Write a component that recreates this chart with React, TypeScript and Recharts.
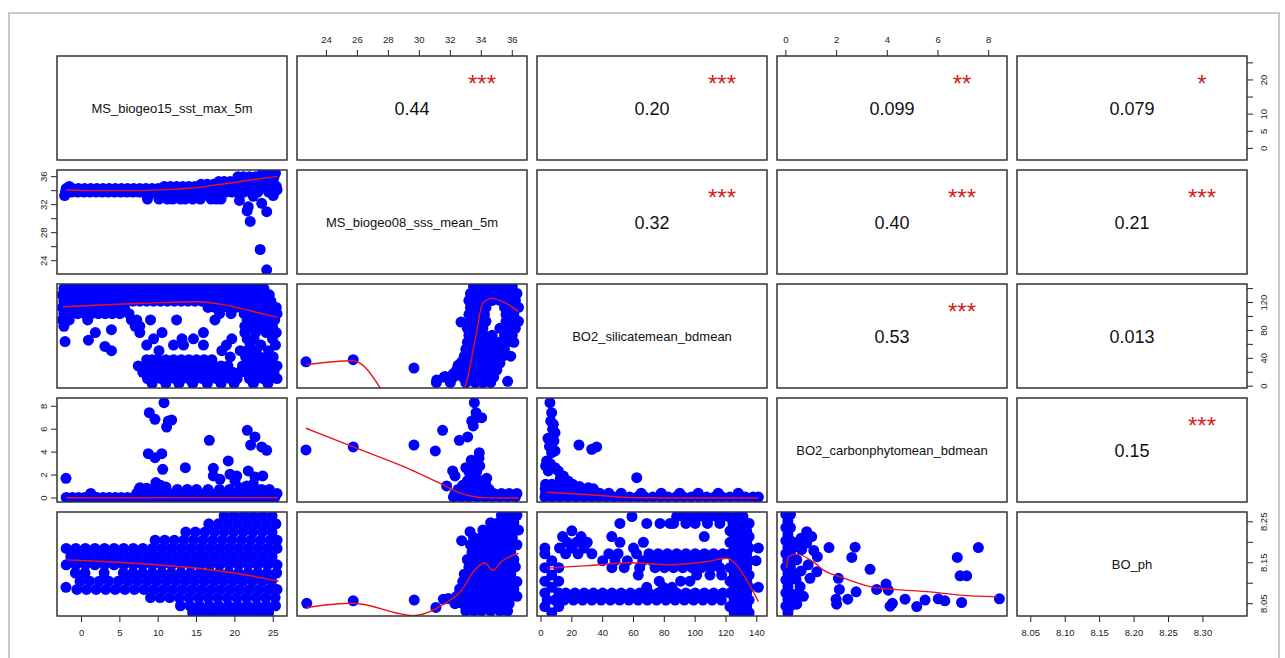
import React from "react";
import { ComposedChart, Scatter, XAxis, YAxis } from "recharts";

type Pt = [number, number];
type Row = [number, number[]];
type Side = "top" | "bottom" | "left" | "right";

const FONT = "'Liberation Sans', Arial, Helvetica, sans-serif";

// panel grid (page pixels)
const colLeft = [57, 297, 537, 777, 1017];
const rowTop = [56, 170, 284, 398, 512];
const PW = 230;
const PH = 104;
const PAD = 40;
const AXIS = 30;

// axis windows of the five variables (range padded by 4% like base R)
const sstDomain: [number, number] = [-3.2, 26.8];
const sstRowDomain: [number, number] = [-3.4, 27.0];
const sssDomain: [number, number] = [22.1, 36.95];
const silDomain: [number, number] = [-2.6, 146.6];
const carbonDomain: [number, number] = [-0.35, 8.72];
const phDomain: [number, number] = [8.02, 8.274];
const phXDomain: [number, number] = [8.03, 8.364];

const sstTicks = [0, 5, 10, 15, 20, 25];
const sstRightLabels = [0, 5, 10, 20];
const sssTicks = [24, 26, 28, 30, 32, 34, 36];
const sssLeftLabels = [24, 28, 32, 36];
const silTicks = [0, 20, 40, 60, 80, 100, 120, 140];
const silRightLabels = [0, 40, 80, 120];
const carbonTicks = [0, 2, 4, 6, 8];
const phTicks = [8.05, 8.1, 8.15, 8.2, 8.25];
const phRightLabels = [8.05, 8.15, 8.25];
const phBottomTicks = [8.05, 8.1, 8.15, 8.2, 8.25, 8.3];

const varNames = [
  "MS_biogeo15_sst_max_5m",
  "MS_biogeo08_sss_mean_5m",
  "BO2_silicatemean_bdmean",
  "BO2_carbonphytomean_bdmean",
  "BO_ph",
];

const corPairs: [number, number][] = [
  [0, 1], [0, 2], [0, 3], [0, 4], [1, 2], [1, 3], [1, 4], [2, 3], [2, 4], [3, 4],
];
const corText = ["0.44", "0.20", "0.099", "0.079", "0.32", "0.40", "0.21", "0.53", "0.013", "0.15"];
const corStars = ["***", "***", "**", "*", "***", "***", "***", "***", "", "***"];

// ---- sst (x) vs sss (y)
const sstSssRows: Row[] = [
  [36.5, [23.6, 24.6, 25.3]],
  [36.0, [20.4, 21.1, 21.9, 22.7, 23.5, 24.3, 25.1]],
  [35.3, [17.9, 18.6, 19.4, 20.2, 21.0, 21.8, 22.6, 23.4, 24.2, 25.0]],
  [34.9, [15.6, 16.4, 17.2]],
  [34.6, [-1.6, 10.8, 11.6, 12.4, 13.2, 14.0, 14.8, 21.4, 22.2, 23.0, 23.8, 24.6, 25.4]],
  [34.3, [-2.0, -1.2, -0.4, 0.4, 1.2, 2.0, 2.8, 3.6, 4.4, 5.2, 6.0, 6.8, 7.6, 8.4, 9.2, 10.0]],
  [34.2, [15.2, 16.0, 16.8, 17.6, 18.4, 19.2, 20.0, 20.8]],
  [33.8, [-2.1, -1.3, -0.5, 0.3, 1.1, 1.9, 2.7, 3.5, 4.3, 5.1, 5.9, 6.7, 7.5, 18.8, 19.6, 20.4, 21.2, 22.2, 23.0, 24.4]],
  [33.6, [8.3, 9.1, 9.9, 10.7, 11.5, 12.3, 13.1, 13.9, 14.7, 15.5, 16.3, 17.1, 17.9]],
  [33.3, [-2.2]],
  [32.8, [8.6, 10.1, 11.2, 11.9, 12.9, 13.5, 14.5, 15.5, 16.9, 17.6, 18.2]],
];
const sstSssPts: Pt[] = [
  [20.6, 32.6], [21.75, 31.7], [21.6, 31.1], [22.0, 29.6], [22.4, 33.2], [23.5, 32.2],
  [24.15, 31.0], [23.3, 25.6], [24.15, 22.7], [25.0, 33.3], [25.5, 34.1],
];
const sstSssSmooth: Pt[] = [
  [-2.0, 34.1], [2.0, 34.0], [7.6, 34.0], [11.0, 34.15], [14.1, 34.35], [17.5, 34.8], [20.7, 35.3], [23.2, 35.7], [25.6, 36.0],
];

// ---- sst (x) vs silicate (y)
const sstSilRows: Row[] = [
  [140, [-2.3, -1.4, -0.5, 0.4, 1.3, 2.2, 3.1, 4.0, 4.9, 5.8, 6.7, 7.6, 8.5, 9.4, 10.3, 11.2, 12.1, 13.0, 13.9, 14.8, 15.7, 16.6, 17.5, 18.4, 19.3, 20.2, 21.1, 22.0, 22.9, 23.8]],
  [131, [-2.5, -1.6, -0.7, 0.2, 1.1, 2.0, 2.9, 3.8, 4.7, 5.6, 6.5, 7.4, 8.3, 9.2, 10.1, 11.0, 11.9, 12.8, 13.7, 14.6, 15.5, 16.4, 17.3, 18.2, 19.1, 20.0, 20.9, 21.8, 22.7, 23.6, 24.5]],
  [122, [-2.3, -1.4, -0.5, 0.4, 1.3, 2.2, 3.1, 4.0, 4.9, 5.8, 6.7, 7.6, 8.5, 9.4, 10.3, 11.2, 12.1, 13.0, 13.9, 14.8, 15.7, 16.6, 17.5, 18.4, 19.3, 20.2, 21.1, 22.0, 22.9, 23.8, 24.7]],
  [113, [-2.5, -1.6, -0.7, 0.2, 1.1, 2.0, 2.9, 3.8, 4.7, 5.6, 16.5, 17.4, 18.3, 19.2, 20.1, 21.0, 21.9, 22.8, 23.7, 24.6, 25.4]],
  [104, [-2.3, -1.4, -0.5, 0.4, 1.3, 2.2, 3.1, 4.0, 5.0, 6.2, 18.0, 19.5, 21.2, 22.1, 23.0, 23.9, 24.8, 25.5]],
  [95, [-2.5, -1.6, 0.8, 6.5, 7.2, 9.0, 12.4, 17.4, 21.6, 22.5, 23.4, 24.3, 25.2]],
  [86, [-2.3, 7.0, 7.6, 21.3, 22.2, 23.1, 24.0, 24.9]],
  [77, [1.8, 7.6, 10.5, 15.9, 21.3, 22.7, 24.1, 25.4]],
  [68, [9.4, 13.1, 14.6, 19.6, 21.6, 22.5, 24.9]],
  [59, [8.5, 12.0, 13.3, 15.9, 18.9, 22.0, 23.4, 25.3]],
  [51, [3.9, 10.1, 18.3, 20.7, 21.6, 22.8, 24.4]],
  [42, [19.4, 21.4, 22.3, 23.2, 24.1, 25.0]],
  [38, [8.5, 9.2, 10.0, 11.0, 12.0, 13.0, 14.0, 15.0, 16.0, 17.0]],
  [29, [7.4, 8.3, 9.2, 10.1, 11.0, 11.9, 12.8, 13.7, 14.6, 15.5, 16.4, 17.3, 18.2, 19.1, 21.0, 21.9, 22.8, 23.7, 24.6, 25.5]],
  [20, [8.0, 8.9, 9.8, 10.7, 11.6, 12.5, 13.4, 14.3, 15.2, 16.1, 17.0, 17.9, 18.8, 19.7, 20.6, 21.5, 22.4, 23.3, 24.2, 25.1]],
  [11, [8.6, 9.5, 10.4, 11.3, 12.2, 13.1, 14.0, 14.9, 15.8, 16.7, 17.6, 18.5, 19.4, 20.3, 21.9, 22.8, 23.7, 24.6, 25.5]],
  [4, [9.2, 11.0, 12.7, 14.5, 16.4, 18.2, 19.9, 22.4, 24.3]],
];
const sstSilPts: Pt[] = [[-2.15, 64], [0.9, 66], [3.05, 57], [3.9, 81]];
const sstSilSmooth: Pt[] = [
  [-2.45, 114], [2.5, 116.5], [7.75, 118.9], [15.1, 121.2], [18.5, 117], [20.7, 111.7], [23.2, 105], [25.6, 98.8],
];

// ---- sss (x) vs silicate (y)
const sssSilRows: Row[] = [
  [143, [33.5, 34.0, 34.5, 35.0, 35.5, 36.0]],
  [133, [33.3, 33.8, 34.3, 34.8, 35.3, 35.8, 36.3]],
  [123, [33.2, 33.7, 34.2, 34.7, 35.2, 35.7, 36.2]],
  [113, [33.3, 33.8, 34.3, 35.5, 36.0, 36.4]],
  [103, [33.2, 33.7, 34.2, 35.6, 36.1]],
  [93, [33.3, 33.8, 34.3, 35.6, 36.1, 36.4]],
  [83, [33.1, 33.6, 34.1, 35.2, 35.7, 36.2]],
  [73, [33.2, 33.7, 34.2, 34.7, 35.5, 36.0]],
  [63, [33.1, 33.6, 34.1, 34.6, 35.1, 35.6, 36.1]],
  [53, [33.0, 33.5, 34.0, 34.5, 35.0, 35.5]],
  [43, [32.9, 33.4, 33.9, 34.4, 34.9, 35.4, 35.9]],
  [33, [32.7, 33.2, 33.7, 34.2, 34.7, 35.2]],
  [23, [32.4, 33.0, 33.5, 34.0, 34.5, 35.0]],
  [13, [31.6, 32.2, 32.8, 33.3, 33.8, 34.3, 34.8]],
  [5, [31.1, 32.0, 33.0, 33.6, 34.1, 34.6]],
];
const sssSilPts: Pt[] = [
  [22.68, 35], [25.73, 38], [29.65, 26], [32.69, 92], [31.12, 9], [31.65, 14], [32.19, 18], [32.5, 30], [32.73, 35], [35.7, 7],
];
const sssSilSmooth: Pt[] = [
  [22.68, 31], [25.73, 36.5], [29.6, -55], [32.95, 0], [33.6, 67], [34.1, 119], [34.67, 126], [35.42, 121], [36.4, 107],
];

// ---- sst (x) vs carbon phyto (y)
const sstCarbonRows: Row[] = [
  [0.05, [-2.0, -1.2, -0.4, 0.4, 1.2, 2.0, 2.8, 3.6, 4.4, 5.2, 6.0, 6.8, 7.6, 8.4, 9.2, 10.0, 10.8, 11.6, 12.4, 13.2, 14.0, 14.8, 15.6, 16.4, 17.2, 18.0, 18.8, 19.6, 20.4, 21.2, 22.0, 22.8, 23.6, 24.4, 25.2]],
  [0.4, [1.2, 7.2, 8.0, 8.8, 9.6, 10.4, 11.2, 12.0, 12.8, 13.6, 14.4, 15.2, 16.0, 16.8, 17.6, 18.4, 19.2, 20.0, 20.8, 21.6, 22.4, 23.2, 24.0, 24.8, 25.5]],
  [0.75, [7.5, 9.3, 10.1, 12.5, 13.8, 15.0, 16.5, 18.0, 19.3, 23.5, 24.5]],
];
const sstCarbonPts: Pt[] = [
  [-2.03, 1.72], [8.84, 7.44], [9.58, 6.86], [10.76, 8.31], [11.32, 6.71], [11.76, 6.8], [11.1, 6.19],
  [8.71, 3.86], [9.58, 3.52], [10.46, 3.86], [10.59, 2.5], [13.54, 2.64], [16.67, 5.03], [17.19, 2.59],
  [17.19, 1.92], [18.06, 1.63], [19.14, 3.23], [19.37, 2.07], [20.24, 1.92], [20.02, 1.48], [21.62, 5.9],
  [22.63, 5.32], [22.06, 4.62], [23.5, 4.45], [24.15, 4.16], [21.75, 2.36], [22.63, 1.83], [23.63, 1.92],
  [20.67, 0.9], [21.54, 1.05], [22.4, 1.2], [22.7, 0.6], [9.7, 1.34], [7.63, 0.9], [8.5, 0.85], [10.3, 1.1], [11.0, 0.95],
];
const sstCarbonSmooth: Pt[] = [[-2.0, 0.02], [6.0, 0.02], [12.0, 0.03], [18.0, 0.03], [25.6, 0.03]];

// ---- sss (x) vs carbon phyto (y)
const sssCarbonRows: Row[] = [
  [3.3, [33.35]],
  [2.8, [33.4, 33.9]],
  [2.3, [33.2, 33.7]],
  [1.9, [33.5]],
  [1.5, [33.1, 33.6, 34.0]],
  [1.1, [32.8, 33.3, 33.8, 34.3]],
  [0.75, [32.5, 33.0, 33.5, 34.0, 34.5]],
  [0.4, [32.3, 32.8, 33.3, 33.8, 34.3, 34.8, 35.3, 35.8, 36.3]],
  [0.08, [32.2, 32.7, 33.2, 33.7, 34.2, 34.7, 35.2, 35.7, 36.2]],
];
const sssCarbonPts: Pt[] = [
  [22.68, 4.19], [25.73, 4.45], [29.65, 4.62], [31.03, 4.1], [31.5, 5.9], [32.58, 5.03], [33.12, 5.32],
  [33.55, 8.31], [33.66, 7.44], [33.38, 6.71], [33.7, 7.0], [34.02, 7.0], [33.48, 6.28], [33.87, 3.95],
  [33.85, 3.47], [33.6, 3.23], [33.0, 2.64], [32.15, 2.36], [32.3, 1.92], [31.76, 1.05], [34.35, 1.72], [33.45, 2.1],
];
const sssCarbonSmooth: Pt[] = [
  [22.68, 6.08], [25.73, 4.45], [29.65, 2.35], [31.76, 1.0], [32.6, 0.45], [33.4, 0.15], [34.2, 0.03], [36.4, 0.0],
];

// ---- silicate (x) vs carbon phyto (y)
const silCarbonRows: Row[] = [
  [0.08, [2.5, 7.5, 12.5, 17.5, 22.5, 27.5, 32.5, 37.5, 42.5, 47.5, 52.5, 57.5, 62.5, 67.5, 72.5, 77.5, 82.5, 87.5, 92.5, 97.5, 102.5, 107.5, 112.5, 117.5, 122.5, 127.5, 132.5, 137.5, 141.0]],
  [0.42, [3, 8, 13, 18, 23, 28, 33, 38, 44, 52, 65, 78, 90, 102, 115, 128]],
  [0.8, [2.7, 6, 10, 14, 18, 22, 26, 34]],
  [1.2, [3, 7, 11, 15, 19]],
];
const silCarbonPts: Pt[] = [
  [5.8, 8.31], [6.9, 7.44], [6.3, 6.71], [8.0, 6.42], [9.1, 5.7], [8.4, 4.97], [6.9, 3.95], [9.1, 4.1],
  [3.7, 3.23], [4.7, 2.36], [9.1, 2.64], [11.2, 2.36], [14.5, 1.92], [17.7, 1.48], [24.6, 4.62], [32.9, 4.25],
  [36.1, 4.45], [62.1, 1.77], [30.7, 0.9], [4.5, 5.2], [7.5, 6.0], [5.5, 4.5], [3.0, 2.8], [6.0, 3.0],
  [12.5, 1.7], [20.5, 1.2], [25.0, 1.0],
];
const silCarbonSmooth: Pt[] = [[3.7, 0.5], [31.8, 0.28], [62.0, 0.02], [141.0, 0.0]];

// ---- sst (x) vs pH (y)
const sstPhRows: Row[] = [
  [8.265, [18.6, 19.85, 21.1, 22.35, 23.6, 24.85]],
  [8.245, [16.6, 17.85, 19.1, 20.35, 21.6, 22.85, 24.1, 25.35]],
  [8.225, [13.6, 14.85, 16.1, 17.35, 18.6, 19.85, 21.1, 22.35, 23.6, 24.85]],
  [8.205, [9.6, 10.85, 12.1, 13.35, 14.6, 15.85, 17.1, 18.35, 19.6, 20.85, 22.1, 23.35, 24.6, 25.5]],
  [8.185, [-2.0, -0.75, 0.5, 1.75, 3.0, 4.25, 5.5, 6.75, 8.0, 9.25, 10.5, 11.75, 13.0, 14.25, 15.5, 16.75, 18.0, 19.25, 20.5, 21.75, 23.0, 24.25, 25.5]],
  [8.165, [-1.4, -0.15, 1.1, 2.35, 3.6, 4.85, 6.1, 7.35, 8.6, 9.85, 11.1, 12.35, 13.6, 14.85, 16.1, 17.35, 18.6, 19.85, 21.1, 22.35, 23.6, 24.85]],
  [8.145, [-2.0, -0.75, 0.5, 1.75, 3.0, 4.25, 5.5, 6.75, 8.0, 9.25, 10.5, 11.75, 13.0, 14.25, 15.5, 16.75, 18.0, 19.25, 20.5, 21.75, 23.0, 24.25, 25.5]],
  [8.125, [-0.8, 0.45, 2.95, 5.45, 6.7, 7.95, 9.2, 10.45, 11.7, 12.95, 14.2, 15.45, 16.7, 17.95, 19.2, 20.45, 21.7, 22.95, 24.2, 25.45]],
  [8.105, [-0.2, 1.05, 2.3, 3.55, 4.8, 6.05, 7.3, 8.55, 9.8, 11.05, 12.3, 13.55, 14.8, 16.05, 17.3, 18.55, 19.8, 21.05, 22.3, 23.55, 24.8]],
  [8.085, [-0.6, 0.65, 1.9, 3.15, 4.4, 5.65, 6.9, 8.15, 9.4, 10.65, 11.9, 13.15, 14.4, 15.65, 16.9, 18.15, 19.4, 20.65, 21.9, 23.15, 24.4, 25.5]],
  [8.065, [9.0, 10.25, 11.5, 12.75, 14.0, 15.25, 16.5, 17.75, 19.0, 20.25, 21.5, 22.75, 24.0, 25.25]],
  [8.045, [12.9, 14.15, 15.4, 16.65, 17.9, 19.15, 20.4, 21.65, 22.9, 24.15, 25.3]],
  [8.028, [14.5, 15.75, 17.0, 18.25, 19.5, 20.75, 22.0, 23.25, 24.4]],
];
const sstPhPts: Pt[] = [[-2.03, 8.09]];
const sstPhSmooth: Pt[] = [[-1.93, 8.157], [3.0, 8.153], [9.8, 8.145], [15.45, 8.136], [21.5, 8.12], [25.7, 8.105]];

// ---- sss (x) vs pH (y)
const sssPhRows: Row[] = [
  [8.266, [35.3, 35.8, 36.3]],
  [8.248, [34.6, 35.1, 35.6, 36.1]],
  [8.23, [34.1, 34.6, 35.1, 35.6, 36.1, 36.4]],
  [8.212, [33.5, 34.0, 34.5, 35.0, 35.5, 36.0]],
  [8.194, [33.3, 33.8, 34.3, 34.8, 35.3, 35.8, 36.3]],
  [8.176, [33.4, 33.9, 34.4, 34.9, 35.4, 35.9]],
  [8.158, [33.1, 33.6, 34.1, 34.6, 35.1, 35.6, 36.1]],
  [8.14, [33.2, 33.7, 34.2, 34.7, 35.2, 35.7, 36.2]],
  [8.122, [32.9, 33.4, 33.9, 34.4, 34.9, 35.4, 35.9]],
  [8.104, [32.8, 33.3, 33.8, 34.3, 34.8, 35.3, 35.8, 36.3]],
  [8.086, [32.6, 33.1, 33.6, 34.1, 34.6, 35.1, 35.6, 36.1]],
  [8.068, [32.4, 32.9, 33.4, 33.9, 34.4, 34.9, 35.4, 35.9, 36.3]],
  [8.05, [32.3, 32.8, 33.3, 33.8, 34.3, 34.8, 35.3, 35.8]],
  [8.032, [33.0, 33.5, 34.0, 34.6, 35.2, 35.7]],
];
const sssPhPts: Pt[] = [
  [22.73, 8.051], [25.73, 8.057], [29.67, 8.059], [31.07, 8.041], [31.55, 8.061], [31.87, 8.063], [32.73, 8.204], [33.27, 8.226],
];
const sssPhSmooth: Pt[] = [
  [22.73, 8.041], [25.73, 8.051], [29.6, 8.021], [31.65, 8.051], [32.73, 8.083], [33.48, 8.128], [34.24, 8.15], [34.73, 8.131], [35.3, 8.153], [36.4, 8.173],
];

// ---- silicate (x) vs pH (y)
const silPhRows: Row[] = [
  [8.263, [59, 88, 92.3, 96.6, 101, 105.3, 109.6, 114, 117.2, 121.5, 126.9, 131]],
  [8.246, [51.2, 68.6, 77.2, 83.7, 86, 94, 100, 108, 116, 124.5, 130, 135]],
  [8.228, [20, 122.6, 128, 133.4]],
  [8.214, [14, 26, 45.9, 105.9, 125.3, 130.7, 135]],
  [8.2, [17, 23, 30, 51.2, 66.4, 122.6, 128, 133.4]],
  [8.186, [2.5, 12, 20, 28, 60, 125.3, 130.7, 135, 141]],
  [8.172, [2.5, 16, 24, 33, 44, 50, 62, 70, 76, 82, 88, 94, 100, 106, 112, 118, 122.6, 128, 133.4]],
  [8.155, [7, 40, 48, 56, 66, 72, 78, 84, 90, 96, 102, 108, 114, 125.3, 130.7, 135, 139.5]],
  [8.138, [2.5, 11.5, 46, 54, 64, 74, 80, 86, 92, 98, 104, 110, 116, 122.6, 128, 133.4]],
  [8.12, [7, 63.1, 101, 109.6, 117.2, 125.3, 130.7, 135]],
  [8.105, [2.5, 11.5, 76.7, 90.6, 96.6, 122.6, 128, 133.4]],
  [8.09, [7, 68.6, 79.3, 85, 125.3, 130.7, 135, 141]],
  [8.076, [2.5, 11.5, 16, 22, 28, 34, 40, 46, 52, 58, 64, 70, 76, 82, 88, 94, 100, 106, 112, 118, 122.6, 128, 133.4]],
  [8.059, [4, 9, 15, 21, 27, 33, 39, 45, 51, 57, 63, 69, 75, 81, 87, 93, 99, 105, 111, 117, 125.3, 130.7, 135]],
  [8.043, [2.5, 11.5, 122.6, 128, 133.4]],
  [8.028, [7, 125.3, 130.7, 135]],
];
const silPhSmooth: Pt[] = [
  [3.7, 8.137], [30, 8.143], [57.7, 8.15], [83.7, 8.145], [107.5, 8.153], [120.4, 8.161], [124.7, 8.153], [133.4, 8.108], [141.0, 8.055],
];

// ---- carbon phyto (x) vs pH (y)
const carbonPhRows: Row[] = [
  [8.268, [0.0, 0.18]], [8.252, [0.08]], [8.236, [0.0, 0.18]], [8.22, [0.08]], [8.204, [0.0, 0.18]],
  [8.188, [0.08, 0.3]], [8.172, [0.0, 0.18]], [8.156, [0.08]], [8.14, [0.0, 0.18]], [8.124, [0.08, 0.3]],
  [8.108, [0.0, 0.18]], [8.092, [0.08]], [8.076, [0.0, 0.18]], [8.06, [0.08, 0.3]], [8.044, [0.0, 0.18]], [8.028, [0.08]],
];
const carbonPhPts: Pt[] = [
  [0.82, 8.226], [1.02, 8.214], [0.82, 8.198], [0.62, 8.182], [0.43, 8.157], [0.88, 8.145], [1.22, 8.128],
  [0.95, 8.112], [0.56, 8.092], [0.69, 8.068], [0.43, 8.049], [1.24, 8.165], [0.6, 8.13], [0.45, 8.2],
  [0.6, 8.21], [1.1, 8.18], [0.4, 8.11], [0.5, 8.075],
  [1.7, 8.187], [2.73, 8.188], [2.6, 8.163], [2.07, 8.112], [2.11, 8.085], [1.98, 8.061], [2.0, 8.049],
  [2.44, 8.061], [2.77, 8.079], [3.32, 8.134], [3.58, 8.085], [3.95, 8.098], [4.04, 8.083], [4.11, 8.044],
  [4.2, 8.051], [4.7, 8.061], [5.16, 8.043], [5.49, 8.059], [6.01, 8.062], [6.27, 8.057], [6.76, 8.163],
  [6.87, 8.118], [7.13, 8.118], [6.93, 8.053], [7.59, 8.187], [8.42, 8.062],
];
const carbonPhSmooth: Pt[] = [
  [0.03, 8.137], [0.1, 8.165], [0.43, 8.171], [1.15, 8.149], [1.48, 8.132], [2.13, 8.116], [3.45, 8.09],
  [4.24, 8.085], [5.68, 8.079], [6.87, 8.071], [8.31, 8.067],
];

const fromRows = (rows: Row[]): Pt[] => rows.flatMap(([y, xs]) => xs.map((x) => [x, y] as Pt));

interface AxisSpec {
  side: Side;
  ticks: number[];
  labels?: number[];
  digits?: number;
}

interface PanelSpec {
  row: number;
  col: number;
  xDomain: [number, number];
  yDomain: [number, number];
  points?: Pt[];
  smooth?: Pt[];
  xAxis?: AxisSpec;
  yAxis?: AxisSpec;
}

const panels: PanelSpec[] = [
  { row: 0, col: 1, xDomain: sssDomain, yDomain: sstRowDomain, xAxis: { side: "top", ticks: sssTicks } },
  { row: 0, col: 3, xDomain: carbonDomain, yDomain: sstRowDomain, xAxis: { side: "top", ticks: carbonTicks } },
  { row: 0, col: 4, xDomain: phXDomain, yDomain: sstRowDomain, yAxis: { side: "right", ticks: sstTicks, labels: sstRightLabels } },
  {
    row: 1, col: 0, xDomain: sstDomain, yDomain: sssDomain,
    points: [...fromRows(sstSssRows), ...sstSssPts], smooth: sstSssSmooth,
    yAxis: { side: "left", ticks: sssTicks, labels: sssLeftLabels },
  },
  { row: 2, col: 0, xDomain: sstDomain, yDomain: silDomain, points: [...fromRows(sstSilRows), ...sstSilPts], smooth: sstSilSmooth },
  { row: 2, col: 1, xDomain: sssDomain, yDomain: silDomain, points: [...fromRows(sssSilRows), ...sssSilPts], smooth: sssSilSmooth },
  { row: 2, col: 4, xDomain: phXDomain, yDomain: silDomain, yAxis: { side: "right", ticks: silTicks, labels: silRightLabels } },
  {
    row: 3, col: 0, xDomain: sstDomain, yDomain: carbonDomain,
    points: [...fromRows(sstCarbonRows), ...sstCarbonPts], smooth: sstCarbonSmooth,
    yAxis: { side: "left", ticks: carbonTicks },
  },
  { row: 3, col: 1, xDomain: sssDomain, yDomain: carbonDomain, points: [...fromRows(sssCarbonRows), ...sssCarbonPts], smooth: sssCarbonSmooth },
  { row: 3, col: 2, xDomain: silDomain, yDomain: carbonDomain, points: [...fromRows(silCarbonRows), ...silCarbonPts], smooth: silCarbonSmooth },
  {
    row: 4, col: 0, xDomain: sstDomain, yDomain: phDomain,
    points: [...fromRows(sstPhRows), ...sstPhPts], smooth: sstPhSmooth,
    xAxis: { side: "bottom", ticks: sstTicks },
  },
  { row: 4, col: 1, xDomain: sssDomain, yDomain: phDomain, points: [...fromRows(sssPhRows), ...sssPhPts], smooth: sssPhSmooth },
  {
    row: 4, col: 2, xDomain: silDomain, yDomain: phDomain,
    points: fromRows(silPhRows), smooth: silPhSmooth,
    xAxis: { side: "bottom", ticks: silTicks },
  },
  { row: 4, col: 3, xDomain: carbonDomain, yDomain: phDomain, points: [...fromRows(carbonPhRows), ...carbonPhPts], smooth: carbonPhSmooth },
  {
    row: 4, col: 4, xDomain: phXDomain, yDomain: phDomain,
    xAxis: { side: "bottom", ticks: phBottomTicks, digits: 2 },
    yAxis: { side: "right", ticks: phTicks, labels: phRightLabels, digits: 2 },
  },
];

const tickMargins: Record<Side, number> = { top: 7, bottom: 7, left: 4, right: 14 };

function makeTick(axis: AxisSpec) {
  return (props: any) => {
    const { x, y, payload } = props;
    const v: number = payload.value;
    const shown = !axis.labels || axis.labels.some((l) => Math.abs(l - v) < 1e-6);
    if (!shown) return <g />;
    const text = v.toFixed(axis.digits ?? 0);
    const style = { fontSize: 9.5, fill: "#222", fontFamily: FONT };
    if (axis.side === "bottom") {
      return (
        <text x={x} y={y} dy="0.72em" textAnchor="middle" {...style}>
          {text}
        </text>
      );
    }
    if (axis.side === "top") {
      return (
        <text x={x} y={y} textAnchor="middle" {...style}>
          {text}
        </text>
      );
    }
    // y labels run parallel to the axis
    return (
      <text x={x} y={y} textAnchor="middle" transform={`rotate(-90 ${x} ${y})`} {...style}>
        {text}
      </text>
    );
  };
}

const blueDot = (p: any) => <circle cx={p.cx} cy={p.cy} r={5.5} fill="#0000FF" />;
const noDot = () => <g />;

function Panel({ row, col, xDomain, yDomain, points, smooth, xAxis, yAxis }: PanelSpec) {
  const left = colLeft[col];
  const top = rowTop[row];
  const margin = {
    top: PAD - (xAxis?.side === "top" ? AXIS : 0),
    bottom: PAD - (xAxis?.side === "bottom" ? AXIS : 0),
    left: PAD - (yAxis?.side === "left" ? AXIS : 0),
    right: PAD - (yAxis?.side === "right" ? AXIS : 0),
  };
  return (
    <div style={{ position: "absolute", left: left - PAD, top: top - PAD }}>
      <ComposedChart width={PW + 2 * PAD} height={PH + 2 * PAD} margin={margin}>
        <XAxis
          type="number"
          dataKey="x"
          domain={xDomain}
          allowDataOverflow
          hide={!xAxis}
          orientation={xAxis?.side === "top" ? "top" : "bottom"}
          height={xAxis ? AXIS : 0}
          ticks={xAxis?.ticks}
          interval={0}
          tickSize={6}
          tickMargin={xAxis ? tickMargins[xAxis.side] : 0}
          axisLine={false}
          tickLine={{ stroke: "#222" }}
          tick={xAxis ? makeTick(xAxis) : false}
        />
        <YAxis
          type="number"
          dataKey="y"
          domain={yDomain}
          allowDataOverflow
          hide={!yAxis}
          orientation={yAxis?.side === "right" ? "right" : "left"}
          width={yAxis ? AXIS : 0}
          ticks={yAxis?.ticks}
          interval={0}
          tickSize={6}
          tickMargin={yAxis ? tickMargins[yAxis.side] : 0}
          axisLine={false}
          tickLine={{ stroke: "#222" }}
          tick={yAxis ? makeTick(yAxis) : false}
        />
        {points && (
          <Scatter
            data={points.map(([x, y]) => ({ x, y }))}
            shape={blueDot}
            isAnimationActive={false}
          />
        )}
        {/* lowess-style smoother drawn over the points */}
        {smooth && (
          <Scatter
            data={smooth.map(([x, y]) => ({ x, y }))}
            shape={noDot}
            line={{ stroke: "#e8141c", strokeWidth: 1.4 }}
            lineJointType="monotoneX"
            isAnimationActive={false}
          />
        )}
      </ComposedChart>
    </div>
  );
}

export default function App() {
  return (
    <div
      style={{
        position: "absolute",
        left: 0,
        top: 0,
        width: 1285,
        height: 658,
        overflow: "hidden",
        background: "#fff",
        fontFamily: FONT,
      }}
    >
      {panels.map((p) => (
        <Panel key={`${p.row}-${p.col}`} {...p} />
      ))}
      <svg
        width={1285}
        height={658}
        style={{ position: "absolute", left: 0, top: 0, pointerEvents: "none" }}
      >
        <rect x={9} y={13} width={1270} height={660} fill="none" stroke="#c8c8c8" strokeWidth={2} />
        {rowTop.map((t, r) =>
          colLeft.map((l, c) => (
            <rect
              key={`f${r}${c}`}
              x={l}
              y={t}
              width={PW}
              height={PH}
              fill="none"
              stroke="#333"
              strokeWidth={1.5}
            />
          ))
        )}
        {varNames.map((name, i) => (
          <text
            key={name}
            x={colLeft[i] + PW / 2}
            y={rowTop[i] + PH / 2 + 4.7}
            textAnchor="middle"
            fontSize={13}
            fontFamily={FONT}
            fill="#111"
          >
            {name}
          </text>
        ))}
        {corPairs.map(([r, c], k) => (
          <g key={`c${k}`}>
            <text
              x={colLeft[c] + PW / 2}
              y={rowTop[r] + PH / 2 + 6.5}
              textAnchor="middle"
              fontSize={18}
              fontFamily={FONT}
              fill="#111"
            >
              {corText[k]}
            </text>
            {corStars[k] && (
              <text
                x={colLeft[c] + 185}
                y={rowTop[r] + 36}
                textAnchor="middle"
                fontSize={24}
                fontFamily={FONT}
                fill="#d42020"
              >
                {corStars[k]}
              </text>
            )}
          </g>
        ))}
      </svg>
    </div>
  );
}
